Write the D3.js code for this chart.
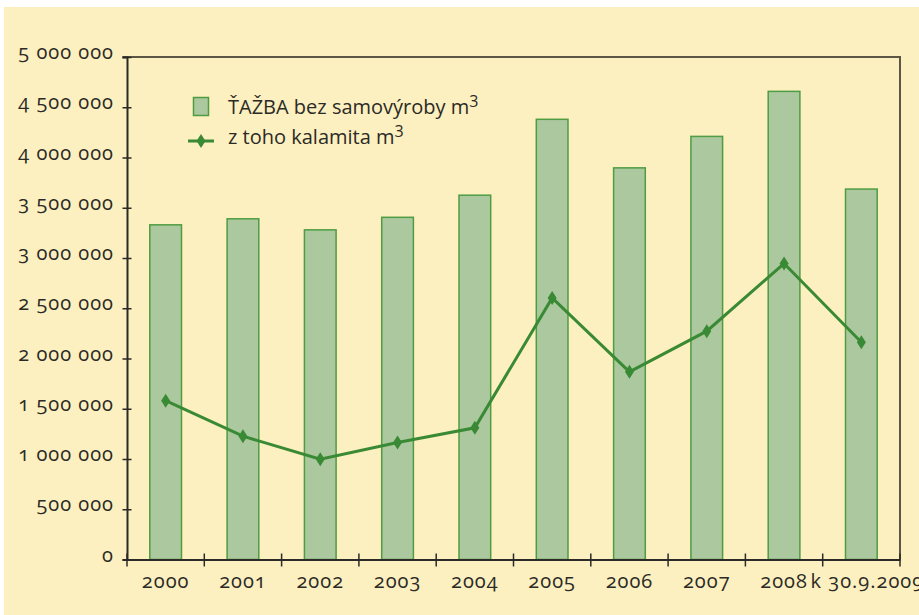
<!DOCTYPE html>
<html>
<head>
<meta charset="utf-8">
<script src="https://cdn.jsdelivr.net/npm/d3@7"></script>
<style>
  body { margin: 0; background: #fff; }
  svg text { font-family: "Open Sans", "Noto Sans", sans-serif; fill: #2b2a26; font-variant-numeric: oldstyle-nums; }
</style>
</head>
<body>
<div id="chart-area"></div>
<script>
// values
var years = ["2000", "2001", "2002", "2003", "2004", "2005", "2006", "2007", "2008", "k 30.9.2009"];
var tazba = [3330000, 3390000, 3280000, 3405000, 3625000, 4380000, 3897000, 4210000, 4658000, 3686000];
var kalamita = [1580000, 1227000, 998000, 1164000, 1310000, 2603000, 1867000, 2272000, 2945000, 2162000];
var yTicks = [0, 500000, 1000000, 1500000, 2000000, 2500000, 3000000, 3500000, 4000000, 4500000, 5000000];

var svg = d3.select("#chart-area").append("svg")
      .attr("width", 919)
      .attr("height", 615);

// yellow panel
svg.append("rect")
    .attr("x", 4).attr("y", 7)
    .attr("width", 915).attr("height", 608)
    .attr("fill", "#fdf0c0");

var plotLeft = 127, plotRight = 900, plotTop = 57, plotBottom = 559.5;

var x = d3.scaleBand()
    .domain(years)
    .range([plotLeft, plotRight])
    .paddingInner(0.59)
    .paddingOuter(0.295);

var y = d3.scaleLinear()
    .domain([0, 5000000])
    .range([plotBottom, plotTop]);

var fmt = d3.formatLocale({ decimal: ",", thousands: " ", grouping: [3], currency: ["", ""] }).format(",");

// frame top and right
svg.append("path")
    .attr("d", "M" + (plotLeft - 4.5) + "," + plotTop + "H" + plotRight + "V" + plotBottom)
    .attr("fill", "none")
    .attr("stroke", "#5c5644")
    .attr("stroke-width", 2);

// bars
svg.selectAll("rect.bar")
    .data(tazba)
    .enter().append("rect")
    .attr("class", "bar")
    .attr("x", function(d, i) { return x(years[i]); })
    .attr("y", function(d) { return y(d); })
    .attr("width", x.bandwidth())
    .attr("height", function(d) { return y(0) - y(d); })
    .attr("fill", "#abc89e")
    .attr("stroke", "#4f9c42")
    .attr("stroke-width", 1.5);

// y axis
var yAxis = svg.append("g")
    .attr("transform", "translate(" + plotLeft + ",0)")
    .call(d3.axisLeft(y).tickValues(yTicks).tickFormat(fmt).tickSize(4.5).tickPadding(8.5));
yAxis.select(".domain").attr("stroke", "#2b2a26").attr("stroke-width", 2);
yAxis.selectAll(".tick line").attr("x1", -4.5).attr("x2", 4.5).attr("stroke", "#2b2a26").attr("stroke-width", 1.5);
yAxis.selectAll(".tick text")
    .attr("dy", 1.5)
    .style("font-size", "20px")
    .style("letter-spacing", "1px");

// x axis
var xAxis = svg.append("g")
    .attr("transform", "translate(0," + plotBottom + ")")
    .call(d3.axisBottom(x).tickSize(0).tickPadding(0));
xAxis.select(".domain").attr("stroke", "#2b2a26").attr("stroke-width", 2);
xAxis.selectAll(".tick text")
    .attr("y", 28)
    .attr("dy", 0)
    .style("font-size", "20px")
    .style("letter-spacing", "1px");
xAxis.selectAll(".tick")
    .filter(function(d) { return d === years[years.length - 1]; })
    .select("text")
    .attr("dx", 6);

var edges = years.map(function(d) { return x(d) + x.bandwidth() / 2 - x.step() / 2; });
edges.push(plotRight);
svg.selectAll("line.xtick")
    .data(edges)
    .enter().append("line")
    .attr("class", "xtick")
    .attr("x1", function(d) { return d; })
    .attr("x2", function(d) { return d; })
    .attr("y1", plotBottom - 6)
    .attr("y2", plotBottom + 7)
    .attr("stroke", "#2b2a26")
    .attr("stroke-width", 1.5);

// kalamita line
var line = d3.line()
    .x(function(d, i) { return x(years[i]) + x.bandwidth() / 2; })
    .y(function(d) { return y(d); });

svg.append("path")
    .datum(kalamita)
    .attr("d", line)
    .attr("fill", "none")
    .attr("stroke", "#3a8a35")
    .attr("stroke-width", 3);

function diamond(cx, cy) {
  return "M" + cx + "," + (cy - 7) + "L" + (cx + 4.5) + "," + cy + "L" + cx + "," + (cy + 7) + "L" + (cx - 4.5) + "," + cy + "Z";
}

svg.selectAll("path.marker")
    .data(kalamita)
    .enter().append("path")
    .attr("class", "marker")
    .attr("d", function(d, i) { return diamond(x(years[i]) + x.bandwidth() / 2, y(d)); })
    .attr("fill", "#3a8a35");

// legend
var legend = svg.append("g");
legend.append("rect")
    .attr("x", 193.5).attr("y", 97.5)
    .attr("width", 15).attr("height", 18)
    .attr("fill", "#abc89e")
    .attr("stroke", "#4f9c42")
    .attr("stroke-width", 1.5);
legend.append("line")
    .attr("x1", 188).attr("x2", 214)
    .attr("y1", 141).attr("y2", 141)
    .attr("stroke", "#3a8a35")
    .attr("stroke-width", 3);
legend.append("path")
    .attr("d", diamond(201, 141))
    .attr("fill", "#3a8a35");

var t1 = legend.append("text").attr("x", 228).attr("y", 114).style("font-size", "20px");
t1.append("tspan").text("ŤAŽBA bez samovýroby m");
t1.append("tspan").attr("dy", -7).style("font-size", "16px").style("font-variant-numeric", "lining-nums").text("3");

var t2 = legend.append("text").attr("x", 228).attr("y", 144).style("font-size", "20px");
t2.append("tspan").text("z toho kalamita m");
t2.append("tspan").attr("dy", -7).style("font-size", "16px").style("font-variant-numeric", "lining-nums").text("3");
</script>
</body>
</html>
